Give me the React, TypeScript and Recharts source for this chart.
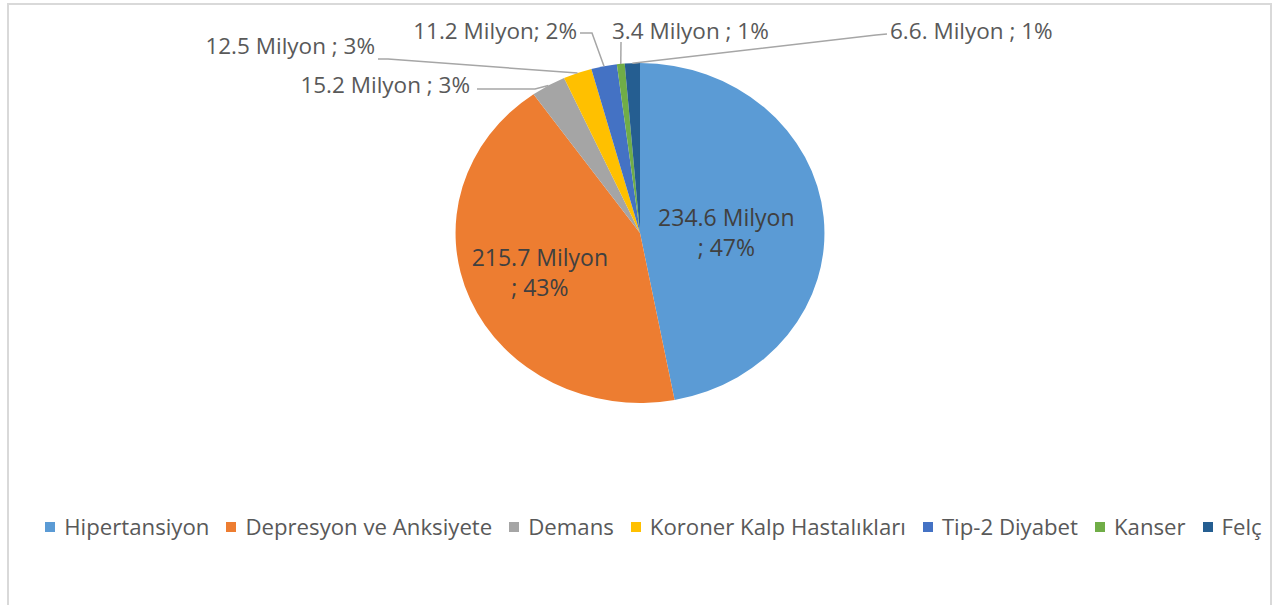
import { PieChart, Pie, Sector, Legend } from 'recharts';

const diseases = [
  'Hipertansiyon',
  'Depresyon ve Anksiyete',
  'Demans',
  'Koroner Kalp Hastalıkları',
  'Tip-2 Diyabet',
  'Kanser',
  'Felç',
];
const patients = [234.6, 215.7, 15.2, 12.5, 11.2, 3.4, 6.6];
const amountTexts = [
  '234.6 Milyon',
  '215.7 Milyon',
  '15.2 Milyon',
  '12.5 Milyon',
  '11.2 Milyon',
  '3.4 Milyon',
  '6.6. Milyon',
];
const sliceColors = ['#5B9BD5', '#ED7D31', '#A5A5A5', '#FFC000', '#4472C4', '#70AD47', '#255E91'];

const pieData = diseases.map((name, i) => ({ name, value: patients[i], fill: sliceColors[i] }));

// the source image is stretched sideways a bit, so the pie is an ellipse
const STRETCH = 1.085;
const RAD = Math.PI / 180;
const FONT = '"Open Sans", sans-serif';
const TEXT = '#595959';
const LEADER = '#A6A6A6';

const onEllipse = (cx: number, cy: number, r: number, angle: number) => ({
  x: cx + STRETCH * r * Math.cos(-angle * RAD),
  y: cy + r * Math.sin(-angle * RAD),
});

// inside labels: distance factor along the mid angle, plus a small vertical nudge
const insideFactor: Record<number, number> = { 0: 0.47, 1: 0.59 };
const insideNudge: Record<number, number> = { 0: 7, 1: 0 };

// outside labels: where the text sits and the bend of its leader line
const outside: Record<
  number,
  { x: number; y: number; anchor: 'start' | 'end'; bend: number[][] }
> = {
  2: { x: 470, y: 84, anchor: 'end', bend: [[477, 89], [535, 89]] },
  3: { x: 375, y: 45, anchor: 'end', bend: [[378, 59], [388, 59]] },
  4: { x: 577, y: 30, anchor: 'end', bend: [[580, 33], [592, 33]] },
  5: { x: 612, y: 30, anchor: 'start', bend: [[621, 42]] },
  6: { x: 890, y: 30, anchor: 'start', bend: [[887, 34], [876, 35]] },
};

const renderSlice = (props: any) => {
  const { cx, cy, innerRadius, outerRadius, startAngle, endAngle, fill } = props;
  return (
    <g transform={`translate(${cx} ${cy}) scale(${STRETCH} 1) translate(${-cx} ${-cy})`}>
      <Sector
        cx={cx}
        cy={cy}
        innerRadius={innerRadius}
        outerRadius={outerRadius}
        startAngle={startAngle}
        endAngle={endAngle}
        fill={fill}
        stroke="none"
      />
    </g>
  );
};

const renderLabel = (props: any) => {
  const { cx, cy, midAngle, outerRadius, index, percent } = props;
  const pct = Math.round(percent * 100);

  if (insideFactor[index] !== undefined) {
    const p = onEllipse(cx, cy, outerRadius * insideFactor[index], midAngle);
    const y = p.y + insideNudge[index];
    return (
      <text
        x={p.x}
        y={y}
        textAnchor="middle"
        fill="#404040"
        fontFamily={FONT}
        fontSize={23}
      >
        <tspan x={p.x} dy={-15} dominantBaseline="central">
          {amountTexts[index]}
        </tspan>
        <tspan x={p.x} dy={30} dominantBaseline="central">
          {`; ${pct}%`}
        </tspan>
      </text>
    );
  }

  const spot = outside[index];
  const edge = onEllipse(cx, cy, outerRadius, midAngle);
  const pts = [...spot.bend, [edge.x, edge.y]].map((p) => p.join(',')).join(' ');
  const sep = index === 4 ? '; ' : ' ; ';
  return (
    <g>
      <polyline points={pts} fill="none" stroke={LEADER} strokeWidth={1.5} />
      <text
        x={spot.x}
        y={spot.y}
        textAnchor={spot.anchor}
        dominantBaseline="central"
        fill={TEXT}
        fontFamily={FONT}
        fontSize={22.5}
      >
        {`${amountTexts[index]}${sep}${pct}%`}
      </text>
    </g>
  );
};

const renderLegend = (props: any) => {
  const items = [...(props.payload || [])].sort(
    (a: any, b: any) => diseases.indexOf(a.value) - diseases.indexOf(b.value),
  );
  return (
    <div
      style={{
        display: 'flex',
        justifyContent: 'center',
        alignItems: 'center',
        paddingLeft: 46,
        fontFamily: FONT,
        fontSize: 22.2,
        color: TEXT,
        whiteSpace: 'nowrap',
      }}
    >
      {items.map((entry: any, i: number) => (
        <div
          key={`leg-${i}`}
          style={{ display: 'flex', alignItems: 'center', marginRight: 17 }}
        >
          <span
            style={{
              width: 10,
              height: 10,
              backgroundColor: entry.color,
              marginRight: 9,
              display: 'inline-block',
            }}
          />
          <span>{entry.value}</span>
        </div>
      ))}
    </div>
  );
};

export default function App() {
  return (
    <div
      style={{
        position: 'absolute',
        left: 0,
        top: 0,
        width: 1278,
        height: 605,
        overflow: 'hidden',
        background: '#fff',
      }}
    >
      <div
        style={{
          position: 'absolute',
          left: 7,
          top: 3,
          width: 1265,
          height: 700,
          boxSizing: 'border-box',
          border: '2px solid #D9D9D9',
        }}
      />
      <div style={{ position: 'absolute', left: 0, top: 0 }}>
        <PieChart width={1278} height={605} margin={{ top: 0, right: 0, bottom: 0, left: 0 }}>
          <Pie
            data={pieData}
            dataKey="value"
            nameKey="name"
            cx={640}
            cy={233}
            outerRadius={170}
            startAngle={90}
            endAngle={-270}
            isAnimationActive={false}
            shape={renderSlice}
            activeShape={renderSlice}
            inactiveShape={renderSlice}
            label={renderLabel}
            labelLine={false}
          />
          <Legend
            content={renderLegend}
            wrapperStyle={{ position: 'absolute', top: 511, left: 0, width: 1278 }}
          />
        </PieChart>
      </div>
    </div>
  );
}
